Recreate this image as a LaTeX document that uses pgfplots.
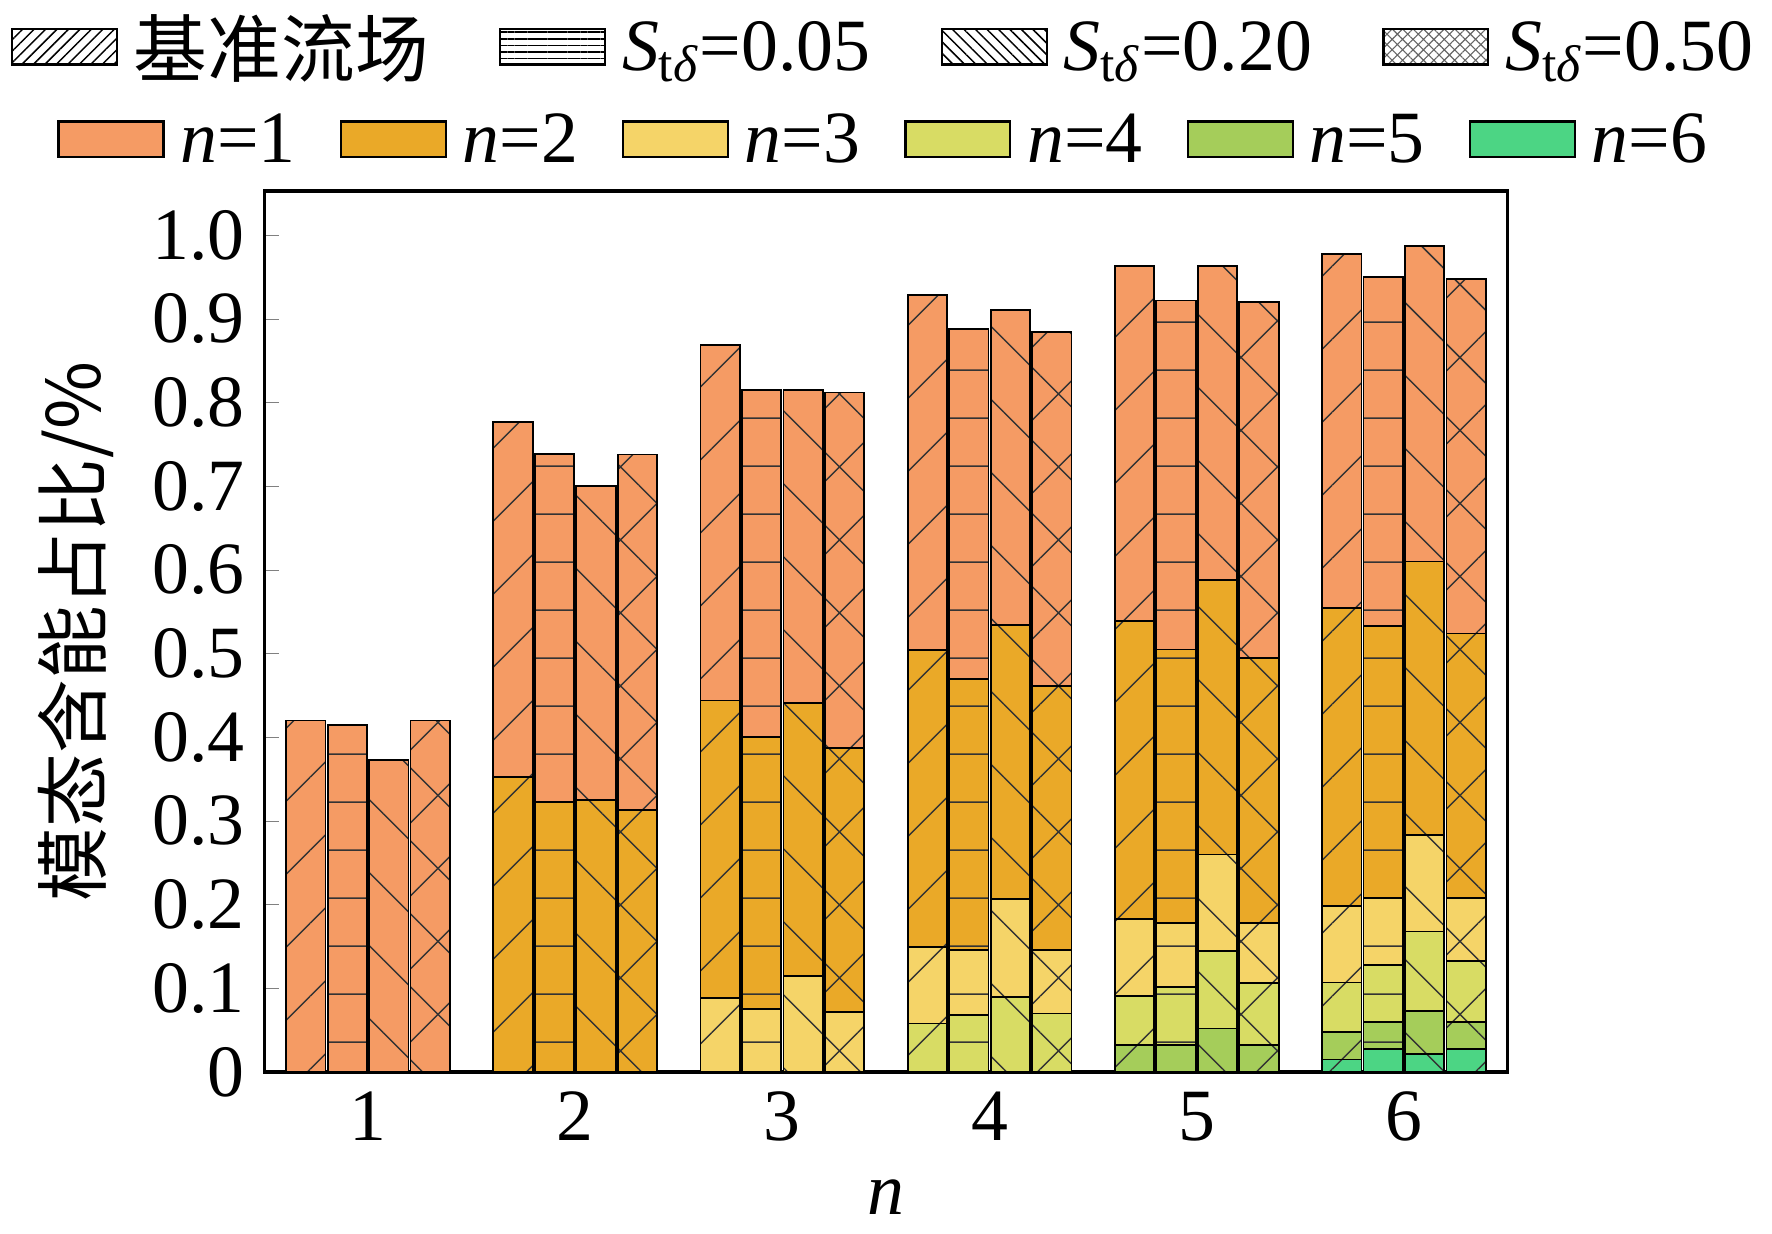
\documentclass[border=0pt]{standalone}
\usepackage{pgfplots}
\pgfplotsset{compat=1.18}
\usetikzlibrary{patterns.meta}
\usepackage{fontspec}
\setmainfont{Liberation Serif}
\newfontfamily\cjk{Noto Sans CJK SC}
\definecolor{c1}{HTML}{F59B64}
\definecolor{c2}{HTML}{EAA928}
\definecolor{c3}{HTML}{F5D468}
\definecolor{c4}{HTML}{D8DC64}
\definecolor{c5}{HTML}{A5CD5A}
\definecolor{c6}{HTML}{4CD584}
\tikzset{
 pA/.style={postaction={pattern={Lines[angle=45,distance=14pt,line width=0.4pt]},pattern color=black!80}},
 pB/.style={postaction={pattern={Lines[angle=0,distance=13pt,line width=0.4pt]},pattern color=black!80}},
 pC/.style={postaction={pattern={Lines[angle=-45,distance=14pt,line width=0.4pt]},pattern color=black!80}},
 pD/.style={postaction={pattern={Hatch[angle=45,distance=14pt,line width=0.4pt]},pattern color=black!80}},
 lA/.style={postaction={pattern={Lines[angle=45,distance=2.2pt,line width=0.4pt]}}},
 lB/.style={postaction={pattern={Lines[angle=0,distance=1.8pt,line width=0.4pt]}}},
 lC/.style={postaction={pattern={Lines[angle=-45,distance=2.2pt,line width=0.4pt]}}},
 lD/.style={postaction={pattern={Hatch[angle=45,distance=2pt,line width=0.3pt]},pattern color=black!60}},
}
\pgfplotsset{
 bb/.style={ybar, bar width=0.19, bar shift=0, draw=black, line width=0.5pt, forget plot},
 leg/.style={legend image code/.code={\draw[##1] (0cm,-0.14cm) rectangle (1.0cm,0.2cm);}},
}
\begin{document}
\fontsize{15}{18}\selectfont
\begin{tikzpicture}
\begin{axis}[scale only axis, width=11.85cm, height=8.4cm,
 xmin=0.5, xmax=6.5, ymin=0, ymax=1.053,
 xtick={1,...,6}, xtick style={draw=none},
 ytick={0,0.1,...,1.0}, yticklabels={0,0.1,0.2,0.3,0.4,0.5,0.6,0.7,0.8,0.9,1.0},
 tick align=inside, ytick pos=left, major tick length=4pt,
 ticklabel style={font=\fontsize{20}{22}\selectfont},
 /pgf/number format/assume math mode=true,
 xlabel={\fontsize{20}{22}\selectfont\textit{n}},
 ylabel={\fontsize{20}{22}\selectfont\cjk 模态含能占比/\%},
 line width=0.9pt,
 legend style={at={(0.5,1.055)}, anchor=center, draw=none, fill=none, font=\fontsize{20}{22}\selectfont, legend columns=6,
   /tikz/every odd column/.append style={column sep=0.08cm},
   /tikz/every even column/.append style={column sep=0.35cm}},
 leg]
% level 1 (totals)
\addplot[bb,fill=c1,pA] coordinates {(0.7,0.420)(1.7,0.777)(2.7,0.869)(3.7,0.929)(4.7,0.963)(5.7,0.978)};
\addplot[bb,fill=c1,pB] coordinates {(0.9,0.415)(1.9,0.739)(2.9,0.815)(3.9,0.888)(4.9,0.922)(5.9,0.950)};
\addplot[bb,fill=c1,pC] coordinates {(1.1,0.373)(2.1,0.700)(3.1,0.815)(4.1,0.911)(5.1,0.963)(6.1,0.987)};
\addplot[bb,fill=c1,pD] coordinates {(1.3,0.420)(2.3,0.738)(3.3,0.812)(4.3,0.884)(5.3,0.920)(6.3,0.948)};
% level 2
\addplot[bb,fill=c2,pA] coordinates {(1.7,0.353)(2.7,0.444)(3.7,0.504)(4.7,0.539)(5.7,0.555)};
\addplot[bb,fill=c2,pB] coordinates {(1.9,0.323)(2.9,0.400)(3.9,0.470)(4.9,0.505)(5.9,0.533)};
\addplot[bb,fill=c2,pC] coordinates {(2.1,0.325)(3.1,0.441)(4.1,0.534)(5.1,0.588)(6.1,0.610)};
\addplot[bb,fill=c2,pD] coordinates {(2.3,0.313)(3.3,0.387)(4.3,0.461)(5.3,0.495)(6.3,0.524)};
% level 3
\addplot[bb,fill=c3,pA] coordinates {(2.7,0.088)(3.7,0.149)(4.7,0.183)(5.7,0.198)};
\addplot[bb,fill=c3,pB] coordinates {(2.9,0.075)(3.9,0.146)(4.9,0.178)(5.9,0.208)};
\addplot[bb,fill=c3,pC] coordinates {(3.1,0.115)(4.1,0.207)(5.1,0.260)(6.1,0.283)};
\addplot[bb,fill=c3,pD] coordinates {(3.3,0.072)(4.3,0.146)(5.3,0.178)(6.3,0.208)};
% level 4
\addplot[bb,fill=c4,pA] coordinates {(3.7,0.058)(4.7,0.091)(5.7,0.107)};
\addplot[bb,fill=c4,pB] coordinates {(3.9,0.068)(4.9,0.102)(5.9,0.128)};
\addplot[bb,fill=c4,pC] coordinates {(4.1,0.090)(5.1,0.145)(6.1,0.168)};
\addplot[bb,fill=c4,pD] coordinates {(4.3,0.070)(5.3,0.106)(6.3,0.133)};
% level 5
\addplot[bb,fill=c5,pA] coordinates {(4.7,0.032)(5.7,0.048)};
\addplot[bb,fill=c5,pB] coordinates {(4.9,0.032)(5.9,0.060)};
\addplot[bb,fill=c5,pC] coordinates {(5.1,0.052)(6.1,0.073)};
\addplot[bb,fill=c5,pD] coordinates {(5.3,0.032)(6.3,0.060)};
% level 6
\addplot[bb,fill=c6,pA] coordinates {(5.7,0.015)};
\addplot[bb,fill=c6,pB] coordinates {(5.9,0.028)};
\addplot[bb,fill=c6,pC] coordinates {(6.1,0.022)};
\addplot[bb,fill=c6,pD] coordinates {(6.3,0.028)};
\addlegendimage{fill=c1,draw=black,line width=0.6pt}\addlegendentry{\textit{n}=1}
\addlegendimage{fill=c2,draw=black,line width=0.6pt}\addlegendentry{\textit{n}=2}
\addlegendimage{fill=c3,draw=black,line width=0.6pt}\addlegendentry{\textit{n}=3}
\addlegendimage{fill=c4,draw=black,line width=0.6pt}\addlegendentry{\textit{n}=4}
\addlegendimage{fill=c5,draw=black,line width=0.6pt}\addlegendentry{\textit{n}=5}
\addlegendimage{fill=c6,draw=black,line width=0.6pt}\addlegendentry{\textit{n}=6}
\end{axis}
\begin{axis}[scale only axis, width=11.85cm, height=8.4cm, hide axis,
 xmin=0, xmax=1, ymin=0, ymax=1,
 legend style={at={(0.5,1.16)}, anchor=center, draw=none, fill=none, font=\fontsize{20}{22}\selectfont, legend columns=4,
   /tikz/every odd column/.append style={column sep=0.08cm},
   /tikz/every even column/.append style={column sep=0.6cm}},
 leg]
\addlegendimage{fill=white,draw=black,line width=0.6pt,lA}\addlegendentry{{\cjk 基准流场}}
\addlegendimage{fill=white,draw=black,line width=0.6pt,lB}\addlegendentry{\textit{S}\textsubscript{t\textit{δ}}=0.05}
\addlegendimage{fill=white,draw=black,line width=0.6pt,lC}\addlegendentry{\textit{S}\textsubscript{t\textit{δ}}=0.20}
\addlegendimage{fill=white,draw=black,line width=0.6pt,lD}\addlegendentry{\textit{S}\textsubscript{t\textit{δ}}=0.50}
\end{axis}
\end{tikzpicture}
\end{document}
